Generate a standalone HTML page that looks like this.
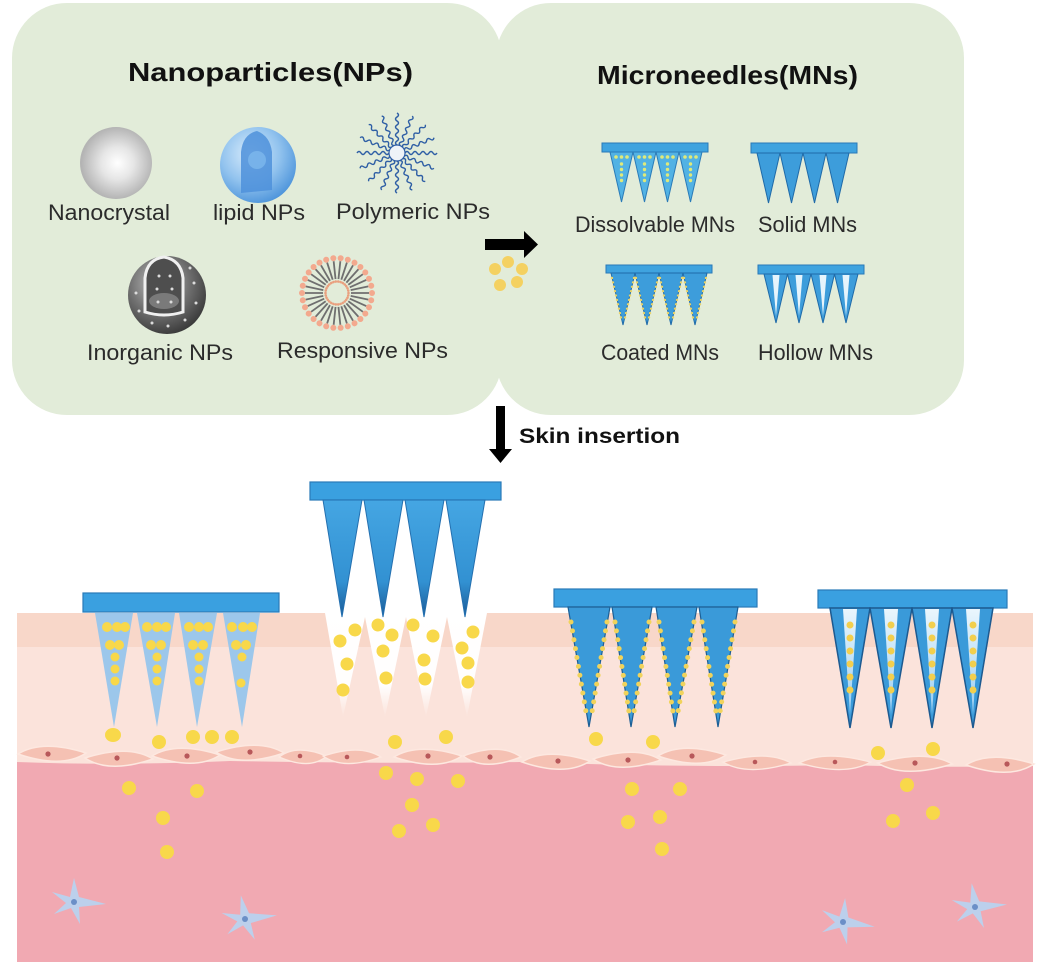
<!DOCTYPE html>
<html><head><meta charset="utf-8"><style>
html,body{margin:0;padding:0;background:#fff;}
svg{display:block;}
text{font-family:"Liberation Sans",Arial,sans-serif;}
</style></head><body>
<svg width="1045" height="976" viewBox="0 0 1045 976" xmlns="http://www.w3.org/2000/svg">
<defs>
 <radialGradient id="gNc" cx="0.52" cy="0.5" r="0.5"><stop offset="0" stop-color="#ffffff"/><stop offset="0.45" stop-color="#e6e6e6"/><stop offset="1" stop-color="#b4b4b4"/></radialGradient>
 <radialGradient id="gLip" cx="0.4" cy="0.35" r="0.7"><stop offset="0" stop-color="#d9ecfb"/><stop offset="0.55" stop-color="#92c3ee"/><stop offset="1" stop-color="#4a92da"/></radialGradient>
 <radialGradient id="gIno" cx="0.4" cy="0.35" r="0.7"><stop offset="0" stop-color="#c4c4c4"/><stop offset="0.55" stop-color="#707070"/><stop offset="1" stop-color="#363636"/></radialGradient>
 <linearGradient id="gHole" x1="0" y1="0" x2="0" y2="1"><stop offset="0" stop-color="#fff" stop-opacity="1"/><stop offset="0.7" stop-color="#fff" stop-opacity="0.95"/><stop offset="1" stop-color="#fff" stop-opacity="0"/></linearGradient>
 <linearGradient id="gSolid" x1="0" y1="0" x2="0" y2="1"><stop offset="0" stop-color="#45a6e3"/><stop offset="0.7" stop-color="#3291d2"/><stop offset="1" stop-color="#1a5a96"/></linearGradient>
 <linearGradient id="gLumen" x1="0" y1="0" x2="0" y2="1"><stop offset="0" stop-color="#eaf6fd"/><stop offset="1" stop-color="#98cdf1"/></linearGradient>
 <g id="arm"><path d="M405,153 q2,-3 4,0 t4,0 t4,0 t4,0 t4,0 t4,0 t4,0 t4,0" fill="none" stroke="#2f5fa5" stroke-width="1.4"/></g>
 <g id="lipid"><line x1="351" y1="293" x2="369" y2="293" stroke="#6f6f6f" stroke-width="1.8"/><circle cx="372" cy="293" r="3" fill="#f3a98e"/><circle cx="348.5" cy="293" r="1.3" fill="#e9a07f"/></g>
 <path id="star" d="M0,-24 L5,-5 L32,2 L5,5 L6,22 L-3,6 L-20,12 L-8,1 L-22,-10 L-4,-5 Z" fill="#b7d4f1" opacity="0.92"/>
 <path id="cell" d="M-34,0 Q-10,-15 34,-1 Q10,15 -34,0 Z" fill="#f5c1b3" stroke="#fde8e0" stroke-width="1.5"/>
</defs>

<!-- Panels -->
<rect x="12" y="3" width="490" height="412" rx="55" fill="#e2ecd9"/>
<rect x="496" y="3" width="468" height="412" rx="55" fill="#e2ecd9"/>

<!-- Titles -->
<text x="128" y="81" font-size="26" font-weight="bold" fill="#111" textLength="285" lengthAdjust="spacingAndGlyphs">Nanoparticles(NPs)</text>
<text x="597" y="84" font-size="26" font-weight="bold" fill="#111" textLength="261" lengthAdjust="spacingAndGlyphs">Microneedles(MNs)</text>

<!-- NP icons -->
<circle cx="116" cy="163" r="36" fill="url(#gNc)"/>
<circle cx="258" cy="165" r="38" fill="url(#gLip)"/>
<path d="M241,193 L241,152 Q243,134 257,131 Q270,136 272,152 L272,190 Z" fill="#4d90da" opacity="0.85"/>
<circle cx="257" cy="160" r="9" fill="#7db8ec" opacity="0.8"/>

<g>
 <circle cx="397" cy="153" r="8" fill="#eef3f8" stroke="#2f5fa5" stroke-width="1.2"/>
 <use href="#arm"/>
 <use href="#arm" transform="rotate(22.5 397 153)"/>
 <use href="#arm" transform="rotate(45 397 153)"/>
 <use href="#arm" transform="rotate(67.5 397 153)"/>
 <use href="#arm" transform="rotate(90 397 153)"/>
 <use href="#arm" transform="rotate(112.5 397 153)"/>
 <use href="#arm" transform="rotate(135 397 153)"/>
 <use href="#arm" transform="rotate(157.5 397 153)"/>
 <use href="#arm" transform="rotate(180 397 153)"/>
 <use href="#arm" transform="rotate(202.5 397 153)"/>
 <use href="#arm" transform="rotate(225 397 153)"/>
 <use href="#arm" transform="rotate(247.5 397 153)"/>
 <use href="#arm" transform="rotate(270 397 153)"/>
 <use href="#arm" transform="rotate(292.5 397 153)"/>
 <use href="#arm" transform="rotate(315 397 153)"/>
 <use href="#arm" transform="rotate(337.5 397 153)"/>
</g>

<circle cx="167" cy="295" r="39" fill="url(#gIno)"/>
<path d="M145,312 L145,278 Q147,259 164,257 Q181,260 183,278 L183,312 Q164,318 145,312 Z" fill="#4e4e4e" stroke="#f0f0f0" stroke-width="3"/>
<ellipse cx="164" cy="301" rx="15" ry="8" fill="#7a7a7a"/>
<g fill="#dcdcdc">
 <circle cx="159" cy="276" r="1.5"/><circle cx="170" cy="276" r="1.5"/><circle cx="157" cy="289" r="1.5"/><circle cx="172" cy="289" r="1.5"/>
 <circle cx="158" cy="302" r="1.5"/><circle cx="171" cy="302" r="1.5"/>
 <circle cx="136" cy="293" r="1.5"/><circle cx="139" cy="311" r="1.5"/><circle cx="152" cy="323" r="1.5"/><circle cx="168" cy="326" r="1.5"/>
 <circle cx="185" cy="320" r="1.5"/><circle cx="196" cy="303" r="1.5"/><circle cx="194" cy="283" r="1.5"/><circle cx="190" cy="268" r="1.5"/>
</g>

<g>
 <use href="#lipid"/>
 <use href="#lipid" transform="rotate(12 337 293)"/>
 <use href="#lipid" transform="rotate(24 337 293)"/>
 <use href="#lipid" transform="rotate(36 337 293)"/>
 <use href="#lipid" transform="rotate(48 337 293)"/>
 <use href="#lipid" transform="rotate(60 337 293)"/>
 <use href="#lipid" transform="rotate(72 337 293)"/>
 <use href="#lipid" transform="rotate(84 337 293)"/>
 <use href="#lipid" transform="rotate(96 337 293)"/>
 <use href="#lipid" transform="rotate(108 337 293)"/>
 <use href="#lipid" transform="rotate(120 337 293)"/>
 <use href="#lipid" transform="rotate(132 337 293)"/>
 <use href="#lipid" transform="rotate(144 337 293)"/>
 <use href="#lipid" transform="rotate(156 337 293)"/>
 <use href="#lipid" transform="rotate(168 337 293)"/>
 <use href="#lipid" transform="rotate(180 337 293)"/>
 <use href="#lipid" transform="rotate(192 337 293)"/>
 <use href="#lipid" transform="rotate(204 337 293)"/>
 <use href="#lipid" transform="rotate(216 337 293)"/>
 <use href="#lipid" transform="rotate(228 337 293)"/>
 <use href="#lipid" transform="rotate(240 337 293)"/>
 <use href="#lipid" transform="rotate(252 337 293)"/>
 <use href="#lipid" transform="rotate(264 337 293)"/>
 <use href="#lipid" transform="rotate(276 337 293)"/>
 <use href="#lipid" transform="rotate(288 337 293)"/>
 <use href="#lipid" transform="rotate(300 337 293)"/>
 <use href="#lipid" transform="rotate(312 337 293)"/>
 <use href="#lipid" transform="rotate(324 337 293)"/>
 <use href="#lipid" transform="rotate(336 337 293)"/>
 <use href="#lipid" transform="rotate(348 337 293)"/>
</g>

<!-- Labels -->
<g font-size="22" fill="#2b2b2b">
 <text x="48" y="220" textLength="122" lengthAdjust="spacingAndGlyphs">Nanocrystal</text>
 <text x="213" y="220" textLength="92" lengthAdjust="spacingAndGlyphs">lipid NPs</text>
 <text x="336" y="219" textLength="154" lengthAdjust="spacingAndGlyphs">Polymeric NPs</text>
 <text x="87" y="360" textLength="146" lengthAdjust="spacingAndGlyphs">Inorganic NPs</text>
 <text x="277" y="358" textLength="171" lengthAdjust="spacingAndGlyphs">Responsive NPs</text>
 <text x="575" y="232" textLength="160" lengthAdjust="spacingAndGlyphs">Dissolvable MNs</text>
 <text x="758" y="232" textLength="99" lengthAdjust="spacingAndGlyphs">Solid MNs</text>
 <text x="601" y="360" textLength="118" lengthAdjust="spacingAndGlyphs">Coated MNs</text>
 <text x="758" y="360" textLength="115" lengthAdjust="spacingAndGlyphs">Hollow MNs</text>
</g>

<!-- Right arrow and dots -->
<rect x="485" y="239" width="40" height="11" fill="#000"/>
<polygon points="524,231 538,244.5 524,258" fill="#000"/>
<g fill="#f7cf55" opacity="0.9">
 <circle cx="508" cy="262" r="6"/><circle cx="522" cy="269" r="6"/><circle cx="517" cy="282" r="6"/><circle cx="500" cy="285" r="6"/><circle cx="495" cy="269" r="6"/>
</g>

<!-- Top MN icons -->
<rect x="602" y="143" width="106" height="9" fill="#3fa3df" stroke="#2879b8" stroke-width="1"/>
<g fill="#52b2e4" stroke="#2a7bb8" stroke-width="1">
 <polygon points="610,152 633,152 621.5,202"/><polygon points="633,152 656,152 644.5,202"/>
 <polygon points="656,152 679,152 667.5,202"/><polygon points="679,152 702,152 690.5,202"/>
</g>
<g fill="#dfe97a">
 <circle cx="616" cy="157" r="1.8"/><circle cx="621.5" cy="157" r="1.8"/><circle cx="627" cy="157" r="1.8"/>
 <circle cx="639" cy="157" r="1.8"/><circle cx="644.5" cy="157" r="1.8"/><circle cx="650" cy="157" r="1.8"/>
 <circle cx="662" cy="157" r="1.8"/><circle cx="667.5" cy="157" r="1.8"/><circle cx="673" cy="157" r="1.8"/>
 <circle cx="685" cy="157" r="1.8"/><circle cx="690.5" cy="157" r="1.8"/><circle cx="696" cy="157" r="1.8"/>
</g>
<g stroke="#dfe97a" stroke-width="3.4" stroke-linecap="round" stroke-dasharray="0 5.5">
 <line x1="621.5" y1="164" x2="621.5" y2="186"/><line x1="644.5" y1="164" x2="644.5" y2="186"/>
 <line x1="667.5" y1="164" x2="667.5" y2="186"/><line x1="690.5" y1="164" x2="690.5" y2="186"/>
</g>
<rect x="751" y="143" width="106" height="10" fill="#3fa3df" stroke="#2879b8" stroke-width="1"/>
<g fill="#3d9ddb" stroke="#1f6aa8" stroke-width="1">
 <polygon points="757,153 780,153 768.5,203"/><polygon points="780,153 803,153 791.5,203"/>
 <polygon points="803,153 826,153 814.5,203"/><polygon points="826,153 849,153 837.5,203"/>
</g>
<rect x="606" y="265" width="106" height="8" fill="#3fa3df" stroke="#2879b8" stroke-width="1"/>
<g fill="#3d9ddb" stroke="#1f6aa8" stroke-width="1">
 <polygon points="611,273 635,273 623,325"/><polygon points="635,273 659,273 647,325"/>
 <polygon points="659,273 683,273 671,325"/><polygon points="683,273 707,273 695,325"/>
</g>
<g stroke="#e9d46a" stroke-width="2.4" stroke-linecap="round" stroke-dasharray="0 4.5">
 <line x1="612" y1="278" x2="621.5" y2="320"/><line x1="634" y1="278" x2="624.5" y2="320"/>
 <line x1="636" y1="278" x2="645.5" y2="320"/><line x1="658" y1="278" x2="648.5" y2="320"/>
 <line x1="660" y1="278" x2="669.5" y2="320"/><line x1="682" y1="278" x2="672.5" y2="320"/>
 <line x1="684" y1="278" x2="693.5" y2="320"/><line x1="706" y1="278" x2="696.5" y2="320"/>
</g>
<rect x="758" y="265" width="106" height="9" fill="#3fa3df" stroke="#2879b8" stroke-width="1"/>
<g fill="#3d9ddb" stroke="#1f6aa8" stroke-width="1">
 <polygon points="764,274 787.5,274 776,323"/><polygon points="787.5,274 811,274 799,323"/>
 <polygon points="811,274 834.5,274 823,323"/><polygon points="834.5,274 858,274 846,323"/>
</g>
<g fill="#e6f4fc">
 <polygon points="772.5,275 779.5,275 776,316"/><polygon points="795.5,275 802.5,275 799,316"/>
 <polygon points="819.5,275 826.5,275 823,316"/><polygon points="842.5,275 849.5,275 846,316"/>
</g>

<!-- Down arrow -->
<rect x="496" y="406" width="9" height="44" fill="#000"/>
<polygon points="489,449 512,449 500.5,463" fill="#000"/>
<text x="519" y="443" font-size="21" font-weight="bold" fill="#111" textLength="161" lengthAdjust="spacingAndGlyphs">Skin insertion</text>

<!-- Skin -->
<rect x="17" y="613" width="1016" height="349" fill="#fbe3db"/>
<rect x="17" y="613" width="1016" height="34" fill="#f8d7c9"/>
<path d="M17,762 Q120,766 230,761 Q400,764 520,762 Q700,768 840,765 Q950,768 1033,766 L1033,962 L17,962 Z" fill="#f1a9b2"/>

<!-- Cells layer -->
<use href="#cell" transform="translate(52,754)"/>
<use href="#cell" transform="translate(119,759) scale(-1,1)"/>
<use href="#cell" transform="translate(186,756)"/>
<use href="#cell" transform="translate(250,753) scale(-1,1)"/>
<use href="#cell" transform="translate(303,757) scale(0.7,0.9)"/>
<use href="#cell" transform="translate(352,757) scale(-0.85,0.9)"/>
<use href="#cell" transform="translate(428,757)"/>
<use href="#cell" transform="translate(492,757) scale(-0.85,1)"/>
<use href="#cell" transform="translate(556,762)"/>
<use href="#cell" transform="translate(627,760) scale(-1,1)"/>
<use href="#cell" transform="translate(692,756)"/>
<use href="#cell" transform="translate(757,763) scale(-1,0.9)"/>
<use href="#cell" transform="translate(835,763) scale(1.05,0.9)"/>
<use href="#cell" transform="translate(915,764) scale(-1.1,1)"/>
<use href="#cell" transform="translate(1000,765)"/>
<g fill="#b8585a">
 <circle cx="48" cy="754" r="2.6"/><circle cx="117" cy="758" r="2.6"/><circle cx="187" cy="756" r="2.6"/><circle cx="250" cy="752" r="2.6"/>
 <circle cx="300" cy="756" r="2.3"/><circle cx="347" cy="757" r="2.3"/><circle cx="428" cy="756" r="2.6"/><circle cx="490" cy="757" r="2.6"/>
 <circle cx="558" cy="761" r="2.6"/><circle cx="628" cy="760" r="2.6"/><circle cx="692" cy="756" r="2.6"/><circle cx="755" cy="762" r="2.3"/>
 <circle cx="835" cy="762" r="2.3"/><circle cx="915" cy="763" r="2.6"/><circle cx="1007" cy="764" r="2.6"/>
</g>

<!-- Stars -->
<use href="#star" transform="translate(74,902)"/>
<use href="#star" transform="translate(245,919) rotate(-10)"/>
<use href="#star" transform="translate(843,922) rotate(5)"/>
<use href="#star" transform="translate(975,907) rotate(-8)"/>
<g fill="#6b8fc7">
 <circle cx="74" cy="902" r="3"/><circle cx="245" cy="919" r="3"/><circle cx="843" cy="922" r="3"/><circle cx="975" cy="907" r="3"/>
</g>

<!-- Holes -->
<polygon points="325,613 343,717 365,617 385,717 406,617 426,717 447,617 467,717 487,613" fill="url(#gHole)"/>

<!-- Dissolvable MN in skin -->
<rect x="83" y="593" width="196" height="19" fill="#3aa0e0" stroke="#2a7ab8" stroke-width="1.2"/>
<g fill="#9cc7eb">
 <polygon points="95,613 133,613 114,727"/><polygon points="137,613 175,613 157,727"/>
 <polygon points="179,613 217,613 197,727"/><polygon points="223,613 260,613 242,727"/>
</g>
<g fill="#f8d84a">
 <circle cx="107" cy="627" r="5"/><circle cx="117" cy="627" r="5"/><circle cx="125" cy="627" r="5"/>
 <circle cx="110" cy="645" r="5"/><circle cx="119" cy="645" r="5"/>
 <circle cx="115" cy="657" r="4.5"/><circle cx="115" cy="669" r="4.5"/><circle cx="115" cy="681" r="4.5"/>
 <circle cx="147" cy="627" r="5"/><circle cx="157" cy="627" r="5"/><circle cx="166" cy="627" r="5"/>
 <circle cx="151" cy="645" r="5"/><circle cx="161" cy="645" r="5"/>
 <circle cx="157" cy="657" r="4.5"/><circle cx="157" cy="669" r="4.5"/><circle cx="157" cy="681" r="4.5"/>
 <circle cx="189" cy="627" r="5"/><circle cx="199" cy="627" r="5"/><circle cx="208" cy="627" r="5"/>
 <circle cx="193" cy="645" r="5"/><circle cx="203" cy="645" r="5"/>
 <circle cx="199" cy="657" r="4.5"/><circle cx="199" cy="669" r="4.5"/><circle cx="199" cy="681" r="4.5"/>
 <circle cx="232" cy="627" r="5"/><circle cx="243" cy="627" r="5"/><circle cx="252" cy="627" r="5"/>
 <circle cx="236" cy="645" r="5"/><circle cx="246" cy="645" r="5"/>
 <circle cx="242" cy="657" r="4.5"/><circle cx="241" cy="683" r="4.5"/>
</g>

<!-- Solid MN (removed) -->
<rect x="310" y="482" width="191" height="18" fill="#3aa0e0" stroke="#2a7ab8" stroke-width="1.2"/>
<g fill="url(#gSolid)" stroke="#2470b0" stroke-width="1">
 <polygon points="323,500 362,500 342,617"/><polygon points="364,500 403,500 383,617"/>
 <polygon points="405,500 444,500 424,617"/><polygon points="446,500 485,500 465,617"/>
</g>

<!-- Coated MN -->
<rect x="554" y="589" width="203" height="18" fill="#3aa0e0" stroke="#2a7ab8" stroke-width="1.2"/>
<g fill="#3a9ad9" stroke="#1d5f95" stroke-width="1.2">
 <polygon points="568,607 610,607 589,727"/><polygon points="612,607 652,607 631,727"/>
 <polygon points="656,607 697,607 675,727"/><polygon points="699,607 738,607 718,727"/>
</g>
<g stroke="#f1d35b" stroke-width="5" stroke-linecap="round" stroke-dasharray="0 9">
 <line x1="571" y1="622" x2="586" y2="712"/><line x1="607" y1="622" x2="592" y2="712"/>
 <line x1="615" y1="622" x2="629" y2="712"/><line x1="649" y1="622" x2="634" y2="712"/>
 <line x1="659" y1="622" x2="673" y2="712"/><line x1="694" y1="622" x2="678" y2="712"/>
 <line x1="702" y1="622" x2="716" y2="712"/><line x1="735" y1="622" x2="720" y2="712"/>
</g>

<!-- Hollow MN -->
<rect x="818" y="590" width="189" height="18" fill="#3aa0e0" stroke="#2a7ab8" stroke-width="1.2"/>
<g fill="#3a9ad9" stroke="#1d5a90" stroke-width="1.5">
 <polygon points="830,608 870,608 850,728"/><polygon points="870,608 912,608 891,728"/>
 <polygon points="912,608 952,608 932,728"/><polygon points="952,608 993,608 973,728"/>
</g>
<g fill="url(#gLumen)">
 <polygon points="843,609 857,609 850,715"/><polygon points="884,609 898,609 891,715"/>
 <polygon points="925,609 939,609 932,715"/><polygon points="966,609 980,609 973,715"/>
</g>
<g stroke="#f2cf4e" stroke-width="7" stroke-linecap="round" stroke-dasharray="0 13">
 <line x1="850" y1="625" x2="850" y2="692"/><line x1="891" y1="625" x2="891" y2="692"/>
 <line x1="932" y1="625" x2="932" y2="692"/><line x1="973" y1="625" x2="973" y2="692"/>
</g>

<!-- Free NP dots -->
<g fill="#f8d84a">
 <ellipse cx="113" cy="735" rx="8" ry="7"/><circle cx="159" cy="742" r="7"/><circle cx="193" cy="737" r="7"/><circle cx="212" cy="737" r="7"/><circle cx="232" cy="737" r="7"/>
 <circle cx="129" cy="788" r="7"/><circle cx="197" cy="791" r="7"/><circle cx="163" cy="818" r="7"/><circle cx="167" cy="852" r="7"/>
 <circle cx="355" cy="630" r="6.5"/><circle cx="340" cy="641" r="6.5"/><circle cx="347" cy="664" r="6.5"/><circle cx="343" cy="690" r="6.5"/>
 <circle cx="378" cy="625" r="6.5"/><circle cx="392" cy="635" r="6.5"/><circle cx="383" cy="651" r="6.5"/><circle cx="386" cy="678" r="6.5"/>
 <circle cx="413" cy="625" r="6.5"/><circle cx="433" cy="636" r="6.5"/><circle cx="424" cy="660" r="6.5"/><circle cx="425" cy="679" r="6.5"/>
 <circle cx="473" cy="632" r="6.5"/><circle cx="462" cy="648" r="6.5"/><circle cx="468" cy="663" r="6.5"/><circle cx="468" cy="682" r="6.5"/>
 <circle cx="395" cy="742" r="7"/><circle cx="446" cy="737" r="7"/>
 <circle cx="386" cy="773" r="7"/><circle cx="417" cy="779" r="7"/><circle cx="458" cy="781" r="7"/><circle cx="412" cy="805" r="7"/><circle cx="433" cy="825" r="7"/><circle cx="399" cy="831" r="7"/>
 <circle cx="596" cy="739" r="7"/><circle cx="653" cy="742" r="7"/>
 <circle cx="632" cy="789" r="7"/><circle cx="680" cy="789" r="7"/><circle cx="628" cy="822" r="7"/><circle cx="660" cy="817" r="7"/><circle cx="662" cy="849" r="7"/>
 <circle cx="878" cy="753" r="7"/><circle cx="933" cy="749" r="7"/>
 <circle cx="907" cy="785" r="7"/><circle cx="933" cy="813" r="7"/><circle cx="893" cy="821" r="7"/>
</g>
</svg>
</body></html>
